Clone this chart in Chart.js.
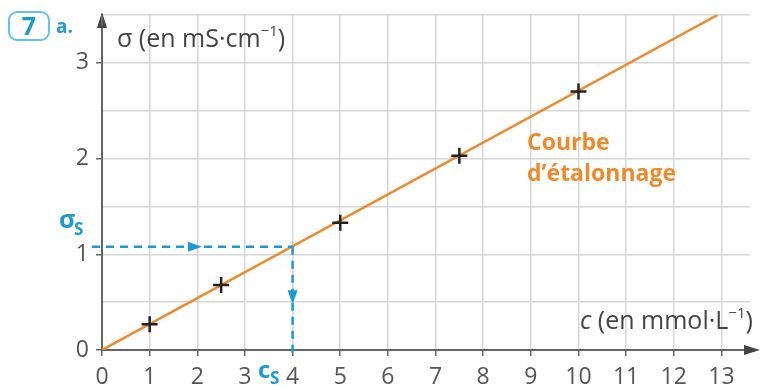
<!DOCTYPE html>
<html>
<head>
<meta charset="utf-8">
<script src="https://cdn.jsdelivr.net/npm/chart.js@4/dist/chart.umd.min.js"></script>
<style>
  html, body { margin: 0; padding: 0; background: #fff; }
  #wrap { width: 761px; height: 390px; }
</style>
</head>
<body>
<div id="wrap"><canvas id="myChart" width="761" height="390"></canvas></div>
<script>
// calibration points
const concentrations = [1, 2.5, 5, 7.5, 10];          // c in mmol/L
const conductivities = [0.27, 0.68, 1.33, 2.03, 2.70]; // sigma in mS/cm
// calibration line
const fitX = [0, 12.92];
const fitY = [0, 3.5];
// sample reading
const sigmaS = 1.08;
const cS = 4;
const xTicks = [0, 1, 2, 3, 4, 5, 6, 7, 8, 9, 10, 11, 12, 13];
const yTicks = [0, 1, 2, 3];

const BLUE = '#1b9ad6';
const ORANGE = '#f0892a';
const GREY = '#555';
const FONT = '"Open Sans", "Noto Sans", sans-serif';

const toPts = (xs, ys) => xs.map((x, i) => ({ x: x, y: ys[i] }));

const extras = {
  id: 'extras',
  afterDatasetsDraw(chart) {
    const ctx = chart.ctx;
    const xs = chart.scales.x, ys = chart.scales.y;
    const x0 = xs.getPixelForValue(0), y0 = ys.getPixelForValue(0);
    ctx.save();

    // axis arrows
    ctx.fillStyle = '#444';
    ctx.beginPath();
    ctx.moveTo(x0, 12); ctx.lineTo(x0 - 5, 28); ctx.lineTo(x0 + 5, 28); ctx.closePath(); ctx.fill();
    ctx.strokeStyle = '#666'; ctx.lineWidth = 2;
    ctx.beginPath(); ctx.moveTo(x0, 26); ctx.lineTo(x0, chart.chartArea.top); ctx.stroke();
    ctx.beginPath(); ctx.moveTo(chart.chartArea.right, y0); ctx.lineTo(748, y0); ctx.stroke();
    ctx.beginPath();
    ctx.moveTo(760, y0); ctx.lineTo(744, y0 - 5); ctx.lineTo(744, y0 + 5); ctx.closePath(); ctx.fill();

    // arrowheads on the dashed reading lines
    ctx.fillStyle = BLUE;
    const ha = xs.getPixelForValue(1.95), hy = ys.getPixelForValue(sigmaS);
    ctx.beginPath(); ctx.moveTo(ha + 7, hy); ctx.lineTo(ha - 7, hy - 5); ctx.lineTo(ha - 7, hy + 5); ctx.closePath(); ctx.fill();
    const vx = xs.getPixelForValue(cS), va = ys.getPixelForValue(0.55);
    ctx.beginPath(); ctx.moveTo(vx, va + 7); ctx.lineTo(vx - 5, va - 7); ctx.lineTo(vx + 5, va - 7); ctx.closePath(); ctx.fill();

    // axis titles
    ctx.fillStyle = '#444';
    ctx.textBaseline = 'alphabetic';
    ctx.font = '25px ' + FONT;
    let tx = 117;
    ctx.fillText('σ (en mS·cm', tx, 47);
    tx += ctx.measureText('σ (en mS·cm').width;
    ctx.font = '15px ' + FONT;
    ctx.fillText('−1', tx, 36);
    tx += ctx.measureText('−1').width;
    ctx.font = '25px ' + FONT;
    ctx.fillText(')', tx, 47);

    ctx.font = 'italic 25px ' + FONT;
    tx = 580;
    ctx.fillText('c', tx, 329);
    tx += ctx.measureText('c ').width;
    ctx.font = '25px ' + FONT;
    ctx.fillText('(en mmol·L', tx, 329);
    tx += ctx.measureText('(en mmol·L').width;
    ctx.font = '15px ' + FONT;
    ctx.fillText('−1', tx, 318);
    tx += ctx.measureText('−1').width;
    ctx.font = '25px ' + FONT;
    ctx.fillText(')', tx, 329);

    // curve label
    ctx.fillStyle = ORANGE;
    ctx.font = 'bold 23px ' + FONT;
    ctx.fillText('Courbe', 527, 150);
    ctx.fillText('d\u2019étalonnage', 527, 181);

    // sigma_S and c_S labels
    ctx.fillStyle = BLUE;
    ctx.font = 'bold 25px ' + FONT;
    ctx.fillText('σ', 59, 228);
    ctx.font = 'bold 17px ' + FONT;
    ctx.fillText('S', 74, 235);
    ctx.font = 'bold 24px ' + FONT;
    ctx.fillText('c', 258, 378);
    ctx.font = 'bold 17px ' + FONT;
    ctx.fillText('S', 270, 384);

    // exercise number
    ctx.strokeStyle = '#62c3ea'; ctx.lineWidth = 2;
    ctx.beginPath(); ctx.roundRect(9, 12, 40, 28, 8); ctx.stroke();
    ctx.fillStyle = BLUE;
    ctx.font = 'bold 25px ' + FONT;
    ctx.textAlign = 'center';
    ctx.fillText('7', 29, 35);
    ctx.textAlign = 'left';
    ctx.font = 'bold 19px ' + FONT;
    ctx.fillText('a.', 56, 33);
    ctx.restore();
  }
};

new Chart(document.getElementById('myChart').getContext('2d'), {
  type: 'scatter',
  data: {
    datasets: [
      {
        data: toPts(fitX, fitY),
        showLine: true,
        borderColor: ORANGE,
        borderWidth: 2.5,
        pointRadius: 0,
        order: 3
      },
      {
        data: toPts([-0.21, cS], [sigmaS, sigmaS]),
        showLine: true,
        borderColor: BLUE,
        borderWidth: 2.5,
        borderDash: [8, 6],
        pointRadius: 0,
        clip: false,
        order: 2
      },
      {
        data: toPts([cS, cS], [sigmaS, -0.03]),
        showLine: true,
        borderColor: BLUE,
        borderWidth: 2.5,
        borderDash: [8, 6],
        pointRadius: 0,
        clip: false,
        order: 2
      },
      {
        data: toPts(concentrations, conductivities),
        pointStyle: 'cross',
        pointRadius: 8,
        pointBorderWidth: 2.5,
        pointBorderColor: '#222',
        pointBackgroundColor: '#222',
        order: 1
      }
    ]
  },
  options: {
    responsive: false,
    animation: false,
    layout: { padding: { top: 15, right: 11, left: 0, bottom: 0 } },
    plugins: { legend: { display: false }, tooltip: { enabled: false } },
    scales: {
      x: {
        type: 'linear',
        min: 0,
        max: 13.6,
        afterBuildTicks: (s) => { s.ticks = xTicks.map(v => ({ value: v })); },
        afterFit: (s) => { s.height = 40; s.paddingLeft = 0; s.paddingRight = 0; },
        grid: { color: '#d6d6d6', lineWidth: 1.5, tickLength: 6, tickColor: '#666' },
        border: { color: '#666', width: 2 },
        ticks: { color: GREY, font: { family: FONT, size: 23 }, padding: 8, maxRotation: 0, autoSkip: false }
      },
      y: {
        type: 'linear',
        min: 0,
        max: 3.5,
        afterBuildTicks: (s) => {
          const t = [];
          for (let v = 0; v <= 3.5; v += 0.5) t.push({ value: v });
          s.ticks = t;
        },
        afterFit: (s) => { s.width = 102; s.paddingTop = 0; s.paddingBottom = 0; },
        grid: {
          color: '#d6d6d6',
          lineWidth: 1.5,
          tickLength: 6,
          tickColor: (c) => (c.tick && yTicks.includes(c.tick.value) ? '#666' : 'rgba(0,0,0,0)')
        },
        border: { color: '#666', width: 2 },
        ticks: {
          color: GREY,
          font: { family: FONT, size: 23 },
          padding: 7,
          autoSkip: false,
          callback: (v) => (yTicks.includes(v) ? String(v) : '')
        }
      }
    }
  },
  plugins: [extras]
});
</script>
</body>
</html>
